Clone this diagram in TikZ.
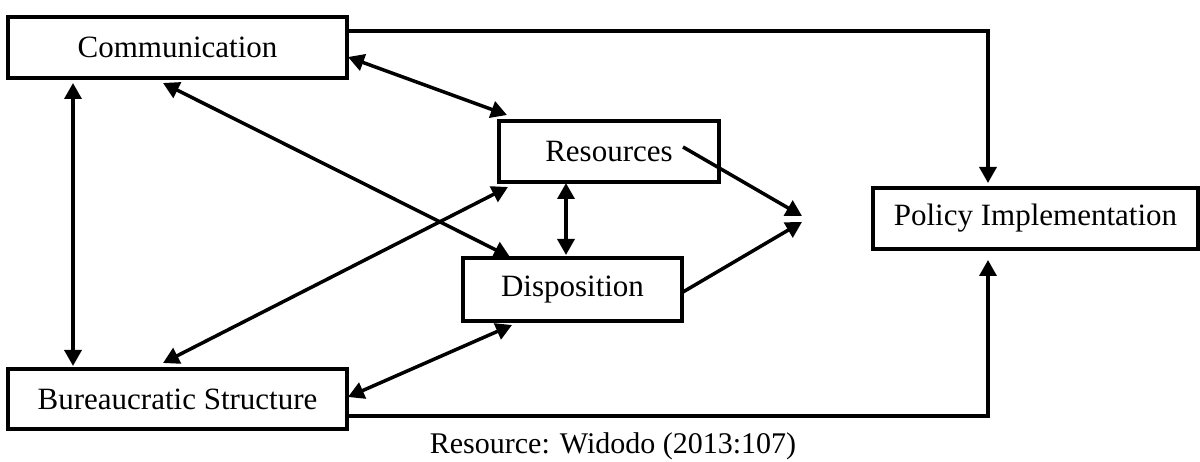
\documentclass[tikz,border=0pt]{standalone}
\usepackage{fontspec}
\setmainfont{Liberation Serif}
\usetikzlibrary{arrows.meta,calc}
\begin{document}
\begin{tikzpicture}[x=1pt,y=-1pt,
  box/.style={draw,line width=4pt,rectangle,inner sep=0pt,outer sep=0pt,font=\fontsize{31}{36}\selectfont},
  conn/.style={line width=3.5pt,-{Triangle[length=16pt,width=17pt]}},
  biconn/.style={line width=3.5pt,{Triangle[length=16pt,width=17pt]}-{Triangle[length=16pt,width=17pt]}}]
\useasboundingbox (0,0) rectangle (1200,462);
\node[box,minimum width=339pt,minimum height=61pt] (comm) at (177.5,47.5) {Communication};
\node[box,minimum width=220pt,minimum height=61pt] (res) at (609,151.5) {Resources};
\node[box,minimum width=219pt,minimum height=63pt] (disp) at (572.5,289.5) {Disposition};
\node[box,minimum width=339pt,minimum height=60pt] (bur) at (177.5,399) {Bureaucratic Structure};
\node[box,minimum width=325pt,minimum height=61pt] (pol) at (1035.5,218.5) {Policy Implementation};
\node[font=\fontsize{30}{36}\selectfont,inner sep=0pt] (cap) at (613,446) {Resource: Widodo (2013:107)};
\coordinate (p1) at (802,216);
\coordinate (p2) at (802,222);
% vertical comm <-> bur
\draw[biconn] ($(comm.south west)+(65,5)$) -- ($(bur.north west)+(65,-3)$);
% comm <-> res
\draw[biconn] ($(comm.north east)+(1,40)$) -- ($(res.north west)+(8,-6)$);
% comm <-> disp
\draw[biconn] ($(comm.south west)+(155,5)$) -- ($(disp.north west)+(47,-1)$);
% res <-> disp
\draw[biconn] ($(res.south west)+(67,1)$) -- ($(disp.north west)+(103,-3)$);
% bur <-> res
\draw[biconn] ($(bur.north west)+(155,-6)$) -- ($(res.south west)+(9,5)$);
% bur <-> disp
\draw[biconn] ($(bur.north east)+(1,28)$) -- ($(disp.south west)+(49,4)$);
% res -> p1, disp -> p2
\draw[conn] ($(res.north west)+(184,26)$) -- (p1);
\draw[conn] ($(disp.north east)+(1,34)$) -- (p2);
% comm -> pol
\draw[conn,line join=miter] ($(comm.north east)+(0,14)$) -| ($(pol.north west)+(115,-5)$);
% bur -> pol
\draw[conn,line join=miter] ($(bur.north east)+(0,47)$) -| ($(pol.south west)+(115,11)$);
\end{tikzpicture}
\end{document}
